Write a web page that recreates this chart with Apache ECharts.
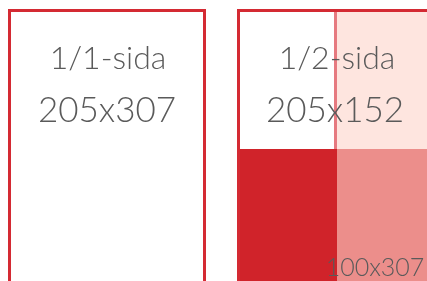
<!DOCTYPE html>
<html>
<head>
<meta charset="utf-8">
<script src="https://cdn.jsdelivr.net/npm/echarts@6/dist/echarts.min.js"></script>
<style>
html, body { margin: 0; padding: 0; background: #fff; }
#main { width: 427px; height: 281px; }
</style>
</head>
<body>
<div id="main"></div>
<script>
// drawing units: x 0..427, y 0..281 (top down)
var fillRects = [
    // [x, y, w, h, colour]
    [237, 9, 200, 300, '#ec8e8b'],
    [237, 9, 200, 140, '#fee5df'],
    [237, 9, 100, 300, '#d0232a'],
    [237, 9, 100, 140, '#ffffff'],
    [334, 12, 3, 137, '#e67a80']
];
var frameRects = [
    [8, 9, 198, 300],
    [237, 9, 200, 300]
];
var labelTexts = ['1/1-sida', '205x307', '1/2-sida', '205x152', '100x307'];
var labelPos = [[108, 59], [107, 111], [337, 59], [335, 111], [375, 268]];
var labelSize = [32, 35, 32, 35, 25];

var myChart = echarts.init(document.getElementById('main'));

function rectItem(params, api) {
    var p0 = api.coord([api.value(0), api.value(1)]);
    var p1 = api.coord([api.value(0) + api.value(2), api.value(1) + api.value(3)]);
    return {
        type: 'rect',
        shape: { x: p0[0], y: p0[1], width: p1[0] - p0[0], height: p1[1] - p0[1] },
        style: { fill: fillRects[params.dataIndex][4] }
    };
}
function frameItem(params, api) {
    var p0 = api.coord([api.value(0), api.value(1)]);
    var p1 = api.coord([api.value(0) + api.value(2), api.value(1) + api.value(3)]);
    return {
        type: 'rect',
        shape: { x: p0[0] + 1.5, y: p0[1] + 1.5, width: p1[0] - p0[0] - 3, height: p1[1] - p0[1] - 3 },
        style: { fill: 'none', stroke: '#d42a33', lineWidth: 3 }
    };
}
function textItem(params, api) {
    var p = api.coord([api.value(0), api.value(1)]);
    var i = params.dataIndex;
    return {
        type: 'text',
        x: p[0],
        y: p[1],
        style: {
            text: labelTexts[i],
            fill: '#5a5a5a',
            font: '300 ' + labelSize[i] + 'px Lato',
            align: 'center',
            verticalAlign: 'middle'
        }
    };
}

var option = {
    animation: false,
    grid: { left: 0, right: 0, top: 0, bottom: 0 },
    xAxis: { type: 'value', min: 0, max: 427, show: false },
    yAxis: { type: 'value', min: 0, max: 281, inverse: true, show: false },
    series: [
        { type: 'custom', renderItem: rectItem, data: fillRects.map(function (r) { return r.slice(0, 4); }), silent: true },
        { type: 'custom', renderItem: frameItem, data: frameRects, silent: true },
        { type: 'custom', renderItem: textItem, data: labelPos, silent: true, z: 5 }
    ]
};
myChart.setOption(option);
</script>
</body>
</html>
